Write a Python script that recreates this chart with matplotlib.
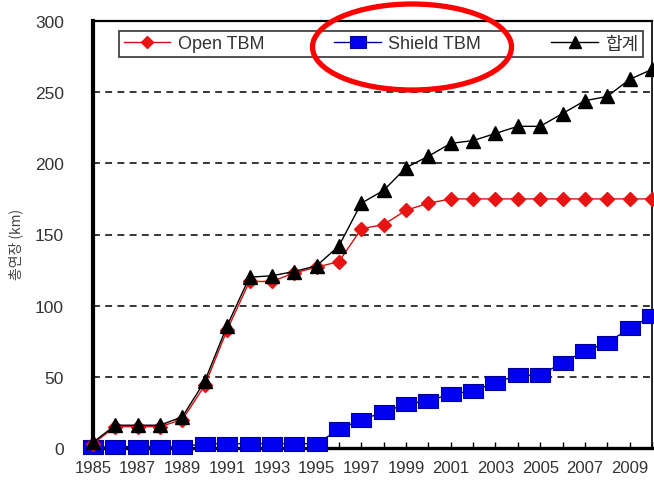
import matplotlib.pyplot as plt
from matplotlib.patches import Ellipse

plt.rcParams['font.family'] = ['Liberation Sans', 'Noto Sans CJK KR', 'DejaVu Sans']

# years 1985 .. 2010 (category axis, every other year labelled)
years = list(range(1985, 2011))
open_tbm = [3, 15, 15, 15, 20, 44, 83, 117, 117, 123, 127, 131, 154, 157, 167, 172,
            175, 175, 175, 175, 175, 175, 175, 175, 175, 175]
shield_tbm = [0.5, 1, 1, 1, 1, 3, 3, 3, 3, 3, 3, 13, 20, 25, 31, 33, 38, 40, 46, 51,
              51, 60, 68, 74, 84, 93]
total = [4, 16, 16, 16, 22, 47, 86, 120, 121, 124, 128, 142, 172, 181, 197, 205, 214,
         216, 221, 226, 226, 235, 244, 247, 259, 266]
y_ticks = [0, 50, 100, 150, 200, 250, 300]

W, H = 654, 481
fig = plt.figure(figsize=(W / 100, H / 100), dpi=100)
ax = fig.add_axes([93 / W, 1 - 449 / H, 559 / W, 427 / H])

x = list(range(len(years)))

# wide flat square for the Shield TBM markers
rect = [(-1.35, -1), (1.35, -1), (1.35, 1), (-1.35, 1), (-1.35, -1)]

ax.plot(x, open_tbm, color='#d01010', lw=1, marker='D', ms=7,
        mfc='#e81414', mec='#e81414', clip_on=False, zorder=4, label='Open TBM')
ax.plot(x, shield_tbm, color='#000080', lw=1, marker=rect, ms=14,
        mfc='#0000ee', mec='#000099', mew=0.8, clip_on=False, zorder=3, label='Shield TBM')
ax.plot(x, total, color='black', lw=1, marker='^', ms=10,
        mfc='black', mec='black', clip_on=False, zorder=5, label='합계')

ax.set_xlim(0, len(years) - 1)
ax.set_ylim(0, 300)
ax.set_yticks(y_ticks)
ax.set_xticks(x)
ax.set_xticklabels([str(y) if i % 2 == 0 else '' for i, y in enumerate(years)])

for yv in y_ticks[1:-1]:
    ax.axhline(yv, color='black', lw=1.1, ls=(0, (4.5, 3.5)), zorder=1)

ax.tick_params(axis='x', direction='in', length=4, width=1, pad=9,
               labelsize=12, labelcolor='#333333')
ax.tick_params(axis='y', length=0, pad=21, labelsize=12.5, labelcolor='#333333')

ax.spines['left'].set_linewidth(3)
ax.spines['bottom'].set_linewidth(2.4)
ax.spines['top'].set_linewidth(1.6)
ax.spines['right'].set_linewidth(1.2)

ax.set_ylabel('총연장 (km)', fontsize=10, color='#444444',
              family=['Noto Sans CJK KR', 'DejaVu Sans'], labelpad=0)
ax.yaxis.set_label_coords(-70 / 559, 0.48)

leg = ax.legend(loc='lower left', ncol=3, mode='expand',
                bbox_to_anchor=(119 / W, 1 - 58 / H, (643 - 119) / W, 30 / H),
                bbox_transform=fig.transFigure, frameon=True, fancybox=False,
                edgecolor='black', fontsize=13, handlelength=2.6, markerscale=0.85,
                borderaxespad=0, borderpad=0.25, handletextpad=0.4)
leg.get_frame().set_linewidth(1.2)
for t in leg.get_texts():
    t.set_color('#333333')
    t.set_family(['Liberation Sans', 'Noto Sans CJK KR', 'DejaVu Sans'])
leg.set_zorder(6)

# red highlight ring around Shield TBM
ring = Ellipse((412 / W, 1 - 48 / H), 199 / W, 86 / H, transform=fig.transFigure,
               fill=False, edgecolor='#ff0000', lw=3.8, zorder=10)
fig.add_artist(ring)

fig.savefig('out.png', dpi=100)
